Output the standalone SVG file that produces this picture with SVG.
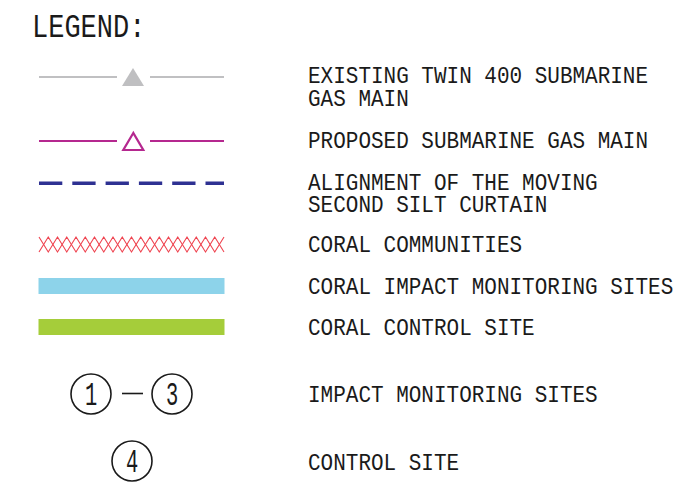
<svg xmlns="http://www.w3.org/2000/svg" width="699" height="495" viewBox="0 0 699 495">
  <style>
    .t { font-family: "Liberation Mono", "DejaVu Sans Mono", monospace; font-size: 21px; fill: #1a1a1a; }
    .title { font-family: "Liberation Mono", "DejaVu Sans Mono", monospace; font-size: 27px; fill: #1a1a1a; }
    .num { font-family: "Liberation Mono", "DejaVu Sans Mono", monospace; font-size: 24px; fill: #1a1a1a; text-anchor: middle; }
    .ring { fill: none; stroke: #1a1a1a; stroke-width: 1.6; }
  </style>
  <rect width="699" height="495" fill="#ffffff"/>

  <text class="title" transform="translate(32,37) scale(1,1.2)">LEGEND:</text>

  <!-- existing twin gas main -->
  <g id="existing-main">
    <line x1="39" y1="77" x2="117" y2="77" stroke="#c0c0c2" stroke-width="2"/>
    <line x1="150" y1="77" x2="224" y2="77" stroke="#c0c0c2" stroke-width="2"/>
    <polygon points="133,68 122,86 144,86" fill="#bfbfc1"/>
    <text class="t" transform="translate(308,83) scale(1,1.12)"><tspan x="0" y="0">EXISTING TWIN 400 SUBMARINE</tspan><tspan x="0" y="20.5">GAS MAIN</tspan></text>
  </g>

  <!-- proposed gas main -->
  <g id="proposed-main">
    <line x1="39" y1="141" x2="117" y2="141" stroke="#b5288f" stroke-width="2.2"/>
    <line x1="150" y1="141" x2="224" y2="141" stroke="#b5288f" stroke-width="2.2"/>
    <polygon points="133.3,133 123.3,150 143.3,150" fill="none" stroke="#b5288f" stroke-width="2.2"/>
    <text class="t" transform="translate(308,148) scale(1,1.12)">PROPOSED SUBMARINE GAS MAIN</text>
  </g>

  <!-- silt curtain -->
  <g id="silt-curtain">
    <line x1="39" y1="183.3" x2="224" y2="183.3" stroke="#2e3192" stroke-width="3.6" stroke-dasharray="23.3 10"/>
    <text class="t" transform="translate(308,190) scale(1,1.12)"><tspan x="0" y="0">ALIGNMENT OF THE MOVING</tspan><tspan x="0" y="19.6">SECOND SILT CURTAIN</tspan></text>
  </g>

  <!-- coral communities hatch -->
  <g id="coral-communities">
    <path d="M39,237 L48.25,252 L57.5,237 L66.75,252 L76,237 L85.25,252 L94.5,237 L103.75,252 L113,237 L122.25,252 L131.5,237 L140.75,252 L150,237 L159.25,252 L168.5,237 L177.75,252 L187,237 L196.25,252 L205.5,237 L214.75,252 L224,237" fill="none" stroke="#ef4450" stroke-width="1.1"/>
    <path d="M39,252 L48.25,237 L57.5,252 L66.75,237 L76,252 L85.25,237 L94.5,252 L103.75,237 L113,252 L122.25,237 L131.5,252 L140.75,237 L150,252 L159.25,237 L168.5,252 L177.75,237 L187,252 L196.25,237 L205.5,252 L214.75,237 L224,252" fill="none" stroke="#ef4450" stroke-width="1.1"/>
    <text class="t" transform="translate(308,252) scale(1,1.12)">CORAL COMMUNITIES</text>
  </g>

  <!-- impact monitoring bar -->
  <g id="coral-impact-sites">
    <rect x="38.5" y="278" width="186" height="16" fill="#8dd3ea"/>
    <text class="t" transform="translate(308,294) scale(1,1.12)">CORAL IMPACT MONITORING SITES</text>
  </g>

  <!-- control site bar -->
  <g id="coral-control-site">
    <rect x="38.5" y="319" width="186" height="16" fill="#a5cd3a"/>
    <text class="t" transform="translate(308,335) scale(1,1.12)">CORAL CONTROL SITE</text>
  </g>

  <!-- numbered site markers -->
  <g id="impact-monitoring-sites">
    <circle class="ring" cx="91" cy="394" r="20"/>
    <text class="num" transform="translate(91,405) scale(0.85,1.4)">1</text>
    <line x1="122" y1="393.5" x2="143" y2="393.5" stroke="#1a1a1a" stroke-width="1.6"/>
    <circle class="ring" cx="172" cy="394" r="20"/>
    <text class="num" transform="translate(172,405) scale(0.85,1.4)">3</text>
    <text class="t" transform="translate(308,402) scale(1,1.12)">IMPACT MONITORING SITES</text>
  </g>

  <g id="control-site">
    <circle class="ring" cx="132" cy="461" r="20"/>
    <text class="num" transform="translate(132,472) scale(0.85,1.4)">4</text>
    <text class="t" transform="translate(308,470) scale(1,1.12)">CONTROL SITE</text>
  </g>
</svg>
